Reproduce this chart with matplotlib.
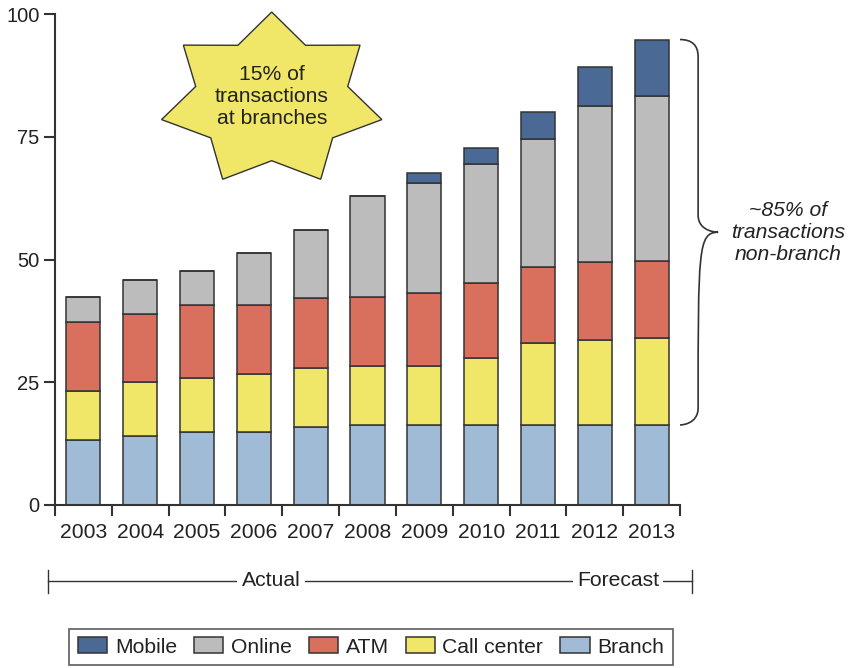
import matplotlib
matplotlib.use("Agg")
import matplotlib.pyplot as plt
import numpy as np
from matplotlib.patches import Polygon, PathPatch
from matplotlib.path import Path
import matplotlib.transforms as mtransforms

plt.rcParams['font.family'] = ['Liberation Sans', 'DejaVu Sans']

years = ['2003', '2004', '2005', '2006', '2007', '2008', '2009', '2010', '2011', '2012', '2013']
branch = [13.2, 14.1, 14.8, 14.8, 15.8, 16.3, 16.3, 16.3, 16.3, 16.3, 16.3]
call_center = [10.1, 10.9, 11.1, 11.8, 12.2, 12.1, 12.0, 13.6, 16.6, 17.4, 17.8]
atm = [14.0, 14.0, 14.9, 14.2, 14.2, 14.0, 14.9, 15.4, 15.5, 15.7, 15.6]
online = [5.1, 6.8, 6.9, 10.6, 13.8, 20.6, 22.4, 24.1, 26.2, 31.9, 33.7]
mobile = [0, 0, 0, 0, 0, 0, 2.0, 3.3, 5.4, 8.0, 11.4]

series = [('Branch', branch, '#a0bbd6'),
          ('Call center', call_center, '#f0e768'),
          ('ATM', atm, '#d9705e'),
          ('Online', online, '#bcbcbc'),
          ('Mobile', mobile, '#4a6a95')]

fig = plt.figure(figsize=(8.5, 6.68), dpi=100)
ax = fig.add_axes([55/850, 1-505/668, 625/850, 491/668])

x = np.arange(len(years))
bottom = np.zeros(len(years))
handles = {}
for name, vals, col in series:
    vals = np.array(vals)
    h = ax.bar(x, vals, width=0.6, bottom=bottom, color=col, edgecolor='#333333', linewidth=1.1, label=name)
    handles[name] = h
    bottom += vals

ax.set_xlim(-0.5, len(years) - 0.5)
ax.set_ylim(0, 100)
ax.set_yticks([0, 25, 50, 75, 100])
ax.set_xticks(np.arange(-0.5, len(years), 1.0))
ax.set_xticklabels([])
ax.set_xticks(x, minor=True)
ax.set_xticklabels(years, minor=True)
ax.tick_params(axis='x', which='minor', length=0, pad=13, labelsize=15.2, labelcolor='#222222')
ax.tick_params(axis='x', which='major', length=8, width=1.5, color='#333333', direction='out')
ax.tick_params(axis='y', length=8, width=1.5, color='#333333', labelsize=14.5, labelcolor='#222222', pad=3)
for s in ['top', 'right']:
    ax.spines[s].set_visible(False)
for s in ['left', 'bottom']:
    ax.spines[s].set_linewidth(1.5)
    ax.spines[s].set_color('#333333')

# Star annotation (7-pointed)
cx, cy = 271.7, 100.0
rx, ry = 113.0, 88.0
pts = []
for k in range(14):
    ang = np.pi/2 - k * np.pi / 7
    r = 1.0 if k % 2 == 0 else 0.69
    pts.append(((cx + rx*r*np.cos(ang))/850, 1 - (cy - ry*r*np.sin(ang))/668))
star = Polygon(pts, closed=True, facecolor='#f0e768', edgecolor='#333333', linewidth=1.0,
               transform=fig.transFigure)
fig.patches.append(star)
fig.text(271.7/850, 1-96/668, '15% of\ntransactions\nat branches', ha='center', va='center',
         fontsize=15.2, color='#222222', linespacing=1.2)

# Brace on the right
trans = mtransforms.blended_transform_factory(ax.transAxes, ax.transData)
y_top = bottom[-1]
y_bot = branch[-1]
y_mid = (y_top + y_bot) / 2
x0, x1, x2 = 1.0, 1.029, 1.061
dy = 3.5
verts = [(x0, y_top), (x1, y_top), (x1, y_top - dy),
         (x1, y_mid + dy),
         (x1, y_mid), (x2, y_mid), (x2, y_mid),
         (x1, y_mid), (x1, y_mid - dy),
         (x1, y_bot + dy),
         (x1, y_bot), (x0, y_bot), (x0, y_bot)]
codes = [Path.MOVETO, Path.CURVE3, Path.CURVE3,
         Path.LINETO,
         Path.CURVE4, Path.CURVE4, Path.CURVE4,
         Path.CURVE4, Path.CURVE4, Path.CURVE4,
         Path.CURVE4, Path.CURVE4, Path.CURVE4]
brace = PathPatch(Path(verts, codes), facecolor='none', edgecolor='#333333', linewidth=1.2,
                  transform=trans, clip_on=False)
ax.add_patch(brace)
fig.text(788/850, 1-232/668, '~85% of\ntransactions\nnon-branch', ha='center', va='center',
         fontsize=15.2, style='italic', color='#222222', linespacing=1.2)

# Actual / Forecast line
ly = 1 - 581/668
fig.add_artist(plt.Line2D([48/850, 692/850], [ly, ly], color='#333333', linewidth=1.0,
                          transform=fig.transFigure))
for xe in [48, 692]:
    fig.add_artist(plt.Line2D([xe/850, xe/850], [1-570/668, 1-593/668], color='#333333',
                              linewidth=1.0, transform=fig.transFigure))
fig.text(271/850, ly, 'Actual', ha='center', va='center', fontsize=15.2, color='#222222',
         bbox=dict(facecolor='white', edgecolor='none', pad=3))
fig.text(618/850, ly, 'Forecast', ha='center', va='center', fontsize=15.2, color='#222222',
         bbox=dict(facecolor='white', edgecolor='none', pad=3))

# Legend
order = ['Mobile', 'Online', 'ATM', 'Call center', 'Branch']
leg = fig.legend([handles[n] for n in order], order, loc='center', ncol=5,
                 bbox_to_anchor=(371/850, 1-647/668), frameon=True, fancybox=False,
                 fontsize=15.2, handlelength=1.4, handleheight=0.8, handletextpad=0.35,
                 columnspacing=0.8, borderpad=0.4, borderaxespad=0, edgecolor='#333333')
leg.get_frame().set_linewidth(1.2)
for t in leg.get_texts():
    t.set_color('#222222')

fig.savefig('out.png', dpi=100)
